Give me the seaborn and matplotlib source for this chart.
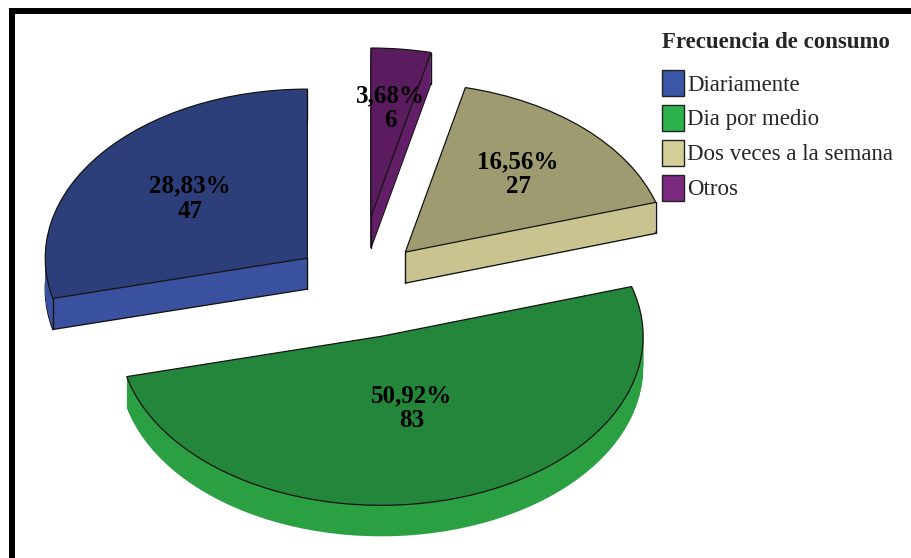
import numpy as np
import matplotlib
matplotlib.use("Agg")
import matplotlib.pyplot as plt
from matplotlib.patches import Patch
from matplotlib.lines import Line2D
import seaborn as sns

# Consumption frequency survey
categories = ["Diariamente", "Dia por medio", "Dos veces a la semana", "Otros"]
counts = [47, 83, 27, 6]
legend_title = "Frecuencia de consumo"

# shading for the extruded pie: lit top, side walls, legend keys
top_colors = ["#2c3f7b", "#24863a", "#9f9b70", "#5b1b5f"]
side_colors = ["#3a51a0", "#2aa043", "#c9c48f", "#621e67"]
key_colors = ["#3a56a6", "#2db14b", "#d3ce97", "#7b2a80"]
explode = [0.25, 0.32, 0.26, 0.40]
label_dist = [0.57, 0.44, 0.63, 0.65]

sns.set_theme(style="white")
plt.rcParams["font.family"] = ["Liberation Serif", "DejaVu Serif"]

W, H = 911, 558
fig = plt.figure(figsize=(W / 100, H / 100), dpi=100)
fig.patch.set_facecolor("white")
ax = fig.add_axes([0, 0, 1, 1])

# one data unit spans 262 px across and 169 px vertically -> tilted disc
rx, ry = 262.0, 169.0
cx_px, cy_px = 358.8, 284.2
depth = 31.0 / ry

# side walls: stack of slightly lowered copies of the pie
offsets = np.linspace(depth, 0, 32, endpoint=False)
for k, off in enumerate(offsets):
    wedges, _ = ax.pie(counts, explode=explode, startangle=90, counterclock=True,
                       colors=side_colors, center=(0, -off), radius=1,
                       wedgeprops=dict(linewidth=0), frame=False)
    if k == 0:
        for i, w in enumerate(wedges):
            if i != 1:
                w.set_edgecolor("#141414")
                w.set_linewidth(1.0)

# top faces
tops, _ = ax.pie(counts, explode=explode, startangle=90, counterclock=True,
                 colors=top_colors, center=(0, 0), radius=1,
                 wedgeprops=dict(edgecolor="#141414", linewidth=0.9), frame=False)
for w in tops:
    w.set_zorder(3)

# vertical corner edges of each slab
for i, w in enumerate(tops):
    if i == 1:
        continue
    c = np.array(w.center)
    pts = [c]
    for t in (w.theta1, w.theta2):
        a = np.deg2rad(t)
        pts.append(c + w.r * np.array([np.cos(a), np.sin(a)]))
    for p in pts:
        ax.plot([p[0], p[0]], [p[1], p[1] - depth], color="#141414", lw=1.0, zorder=2)

# value labels: percentage and count
total = sum(counts)
for w, n, d in zip(tops, counts, label_dist):
    m = np.deg2rad((w.theta1 + w.theta2) / 2)
    x = w.center[0] + w.r * d * np.cos(m)
    y = w.center[1] + w.r * d * np.sin(m)
    pct = f"{100 * n / total:.2f}".replace(".", ",")
    ax.text(x, y, f"{pct}%\n{n}", ha="center", va="center", fontsize=18,
            fontweight="bold", linespacing=1.12, color="black", zorder=5)

ax.set_aspect("auto")
ax.set_xlim(-cx_px / rx, (W - cx_px) / rx)
ax.set_ylim((cy_px - H) / ry, cy_px / ry)
ax.axis("off")

handles = [Patch(facecolor=c, edgecolor="#222222", linewidth=1.0) for c in key_colors]
leg = ax.legend(handles, categories, title=legend_title, loc="upper left",
                bbox_to_anchor=(662 / W, 1 - 32 / H), frameon=False,
                prop=dict(size=16.5), title_fontproperties=dict(weight="bold", size=16.5),
                alignment="left", handlelength=0.96, handleheight=1.4,
                handletextpad=0.15, labelspacing=0.37, borderpad=0, borderaxespad=0)
leg._legend_box.sep = 12

# black frame on the left and top
fig.add_artist(Line2D([12 / W, 12 / W], [0, 1 - 11 / H], color="black", lw=4.3,
                      solid_capstyle="projecting", transform=fig.transFigure))
fig.add_artist(Line2D([12 / W, 1.01], [1 - 11 / H, 1 - 11 / H], color="black", lw=4.3,
                      solid_capstyle="projecting", transform=fig.transFigure))

fig.savefig("out.png", dpi=100, facecolor="white")
